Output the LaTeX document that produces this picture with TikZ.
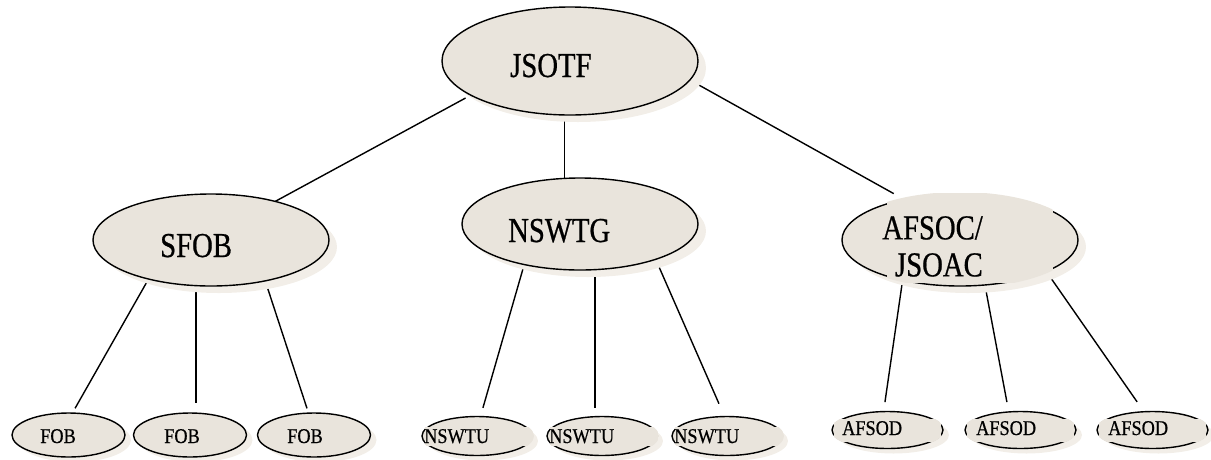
\documentclass[tikz,border=0pt]{standalone}
\usepackage{fontspec}
\newfontfamily\unitfont[FakeStretch=0.82,FakeBold=0.6]{Liberation Serif}
\newfontfamily\subunitfont[FakeStretch=0.87,FakeBold=0.6]{Liberation Serif}
\usetikzlibrary{shapes.geometric,shadows,backgrounds}
\definecolor{unitfill}{HTML}{E9E4DC}
\definecolor{unitshade}{HTML}{F2EEE8}
\begin{document}
\begin{tikzpicture}[x=1pt,y=-1pt,
	ovalbase/.style={ellipse,draw,fill=unitfill,line width=1.4pt,inner sep=0pt,outer sep=0pt},
	unit/.style={ovalbase,drop shadow={shadow xshift=8pt,shadow yshift=-7pt,fill=unitshade,opacity=1}},
	subunit/.style={ovalbase,drop shadow={shadow xshift=6pt,shadow yshift=-5pt,fill=unitshade,opacity=1}},
	cover/.style={rectangle,fill=unitfill,inner sep=0pt,outer sep=0pt},
	bigtxt/.style={inner sep=0pt,font=\unitfont\fontsize{35}{37}\selectfont},
	smalltxt/.style={inner sep=0pt,font=\subunitfont\fontsize{21}{24}\selectfont},
	link/.style={line width=1.4pt}]
	\useasboundingbox (0,0) rectangle (1211,459);
	% top level
	\node[unit,minimum width=256pt,minimum height=108pt] (JSOTF) at (570,61) {};
	\node[bigtxt,anchor=base west] (JSOTFlbl) at (510,77) {JSOTF};
	% second level
	\node[unit,minimum width=236pt,minimum height=92pt] (SFOB) at (211,240) {};
	\node[bigtxt,anchor=base west] (SFOBlbl) at (160,257) {SFOB};
	\node[unit,minimum width=236pt,minimum height=92pt] (NSWTG) at (580,224) {};
	\node[bigtxt,anchor=base west] (NSWTGlbl) at (508,242) {NSWTG};
	\node[unit,minimum width=236pt,minimum height=92pt] (AFSOC) at (960,240) {};
	\begin{scope}
		\clip (AFSOC.center) ellipse [x radius=120pt, y radius=48pt];
		\node[cover,minimum width=166pt,minimum height=90pt] (AFSOCbox) at (970,238) {};
	\end{scope}
	\node[bigtxt,align=right,anchor=north east] (AFSOClbl) at (983,216) {AFSOC/\\JSOAC};
	% FOB
	\node[subunit,minimum width=113pt,minimum height=44pt] (FOB1) at (68.5,435) {};
	\node[smalltxt,anchor=base] (FOB1lbl) at (58,443) {FOB};
	\node[subunit,minimum width=113pt,minimum height=44pt] (FOB2) at (190,435) {};
	\node[smalltxt,anchor=base] (FOB2lbl) at (182,443) {FOB};
	\node[subunit,minimum width=113pt,minimum height=44pt] (FOB3) at (314,435) {};
	\node[smalltxt,anchor=base] (FOB3lbl) at (305,443) {FOB};
	% NSWTU
	\node[subunit,minimum width=110pt,minimum height=39pt] (NSWTU1) at (477,436) {};
	\begin{scope}
		\clip (NSWTU1.center) ellipse [x radius=57pt, y radius=21pt];
		\node[cover,minimum width=109pt,minimum height=19pt] (NSWTU1box) at (479.5,436.5) {};
	\end{scope}
	\node[smalltxt,anchor=base west] (NSWTU1lbl) at (424,443) {NSWTU};
	\node[subunit,minimum width=110pt,minimum height=39pt] (NSWTU2) at (602,436) {};
	\begin{scope}
		\clip (NSWTU2.center) ellipse [x radius=57pt, y radius=21pt];
		\node[cover,minimum width=109pt,minimum height=19pt] (NSWTU2box) at (604.5,436.5) {};
	\end{scope}
	\node[smalltxt,anchor=base west] (NSWTU2lbl) at (549,443) {NSWTU};
	\node[subunit,minimum width=110pt,minimum height=39pt] (NSWTU3) at (727,436) {};
	\begin{scope}
		\clip (NSWTU3.center) ellipse [x radius=57pt, y radius=21pt];
		\node[cover,minimum width=109pt,minimum height=19pt] (NSWTU3box) at (729.5,436.5) {};
	\end{scope}
	\node[smalltxt,anchor=base west] (NSWTU3lbl) at (674,443) {NSWTU};
	% AFSOD
	\node[subunit,minimum width=111pt,minimum height=37pt] (AFSOD1) at (887.5,430) {};
	\begin{scope}
		\clip (AFSOD1.center) ellipse [x radius=57pt, y radius=20pt];
		\node[cover,minimum width=107pt,minimum height=23pt] (AFSOD1box) at (887.5,430.5) {};
	\end{scope}
	\node[smalltxt,anchor=base west] (AFSOD1lbl) at (842,435) {AFSOD};
	\node[subunit,minimum width=111pt,minimum height=37pt] (AFSOD2) at (1020.5,430) {};
	\begin{scope}
		\clip (AFSOD2.center) ellipse [x radius=57pt, y radius=20pt];
		\node[cover,minimum width=107pt,minimum height=23pt] (AFSOD2box) at (1020.5,430.5) {};
	\end{scope}
	\node[smalltxt,anchor=base west] (AFSOD2lbl) at (976,435) {AFSOD};
	\node[subunit,minimum width=111pt,minimum height=37pt] (AFSOD3) at (1152.5,430) {};
	\begin{scope}
		\clip (AFSOD3.center) ellipse [x radius=57pt, y radius=20pt];
		\node[cover,minimum width=107pt,minimum height=23pt] (AFSOD3box) at (1152.5,430.5) {};
	\end{scope}
	\node[smalltxt,anchor=base west] (AFSOD3lbl) at (1108,435) {AFSOD};
	% connectors behind the ovals
	\begin{scope}[on background layer]
		\draw[link,shorten <=6pt] (JSOTF.199) -- (SFOB.31);
		\draw[link] (JSOTF.south -| NSWTG.109) -- (NSWTG.109);
		\draw[link,shorten >=12pt] (JSOTF.351) -- (AFSOC.144);
		\draw[link,shorten >=5.5pt] (SFOB.212) -- (FOB1.80);
		\draw[link,shorten >=10pt] (SFOB.252) -- (SFOB.252 |- FOB2.north);
		\draw[link,shorten >=5pt] (SFOB.323) -- (FOB3.104);
		\draw[link,shorten >=9pt] (NSWTG.216) -- (NSWTU1.80);
		\draw[link,shorten >=8.5pt] (NSWTG.288) -- (NSWTG.288 |- NSWTU2.north);
		\draw[link,shorten >=14pt] (NSWTG.335) -- (NSWTU3.97);
		\draw[link,shorten >=9.5pt] (AFSOC.215) -- (AFSOD1.102);
		\draw[link,shorten >=10pt] (AFSOC.299) -- (AFSOD2.123);
		\draw[link,shorten >=12pt] (AFSOC.340) -- (AFSOD3.115);
	\end{scope}
\end{tikzpicture}
\end{document}
